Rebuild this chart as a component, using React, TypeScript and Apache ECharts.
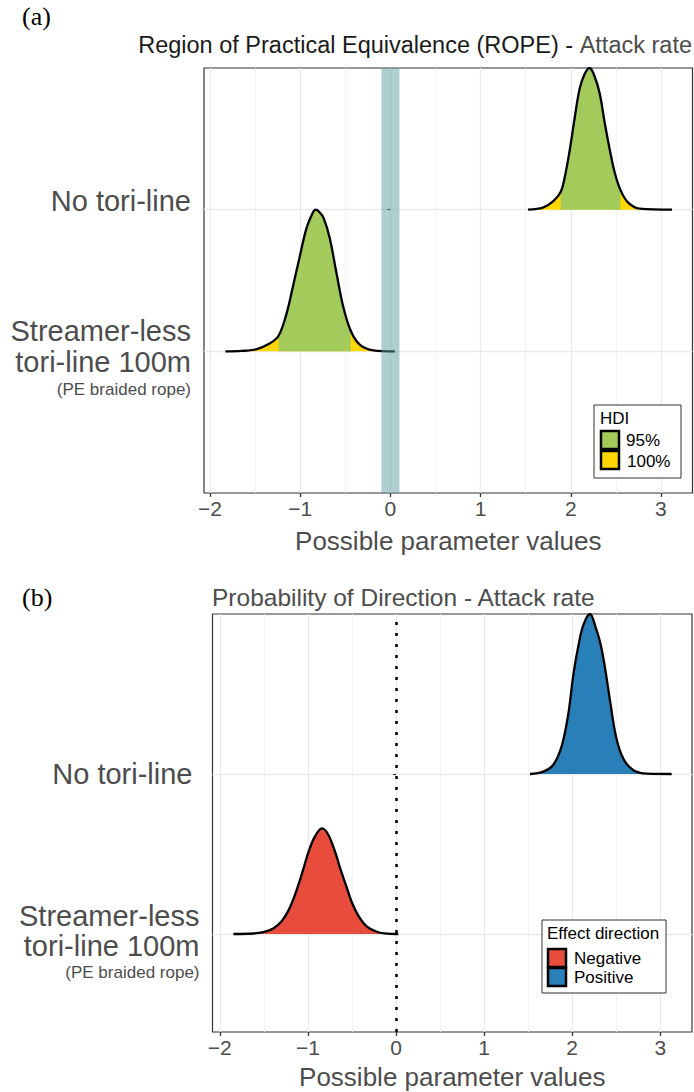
import React, { useEffect, useRef } from 'react';
import * as echarts from 'echarts';

// ---------- data ----------
const xTicks = [-2, -1, 0, 1, 2, 3];
const xMinor = [-1.5, -0.5, 0.5, 1.5, 2.5];
const yLevels = [1, 2];
const yLabelMain = ['Streamer-less\ntori-line 100m', 'No tori-line'];
const yLabelSub = ['(PE braided rope)', ''];

const ropeStreamerX = [-1.83, -1.65, -1.49, -1.34, -1.24, -1.15, -1.08, -1.005, -0.93, -0.855, -0.83, -0.79, -0.74, -0.673, -0.6, -0.525, -0.44, -0.34, -0.19, 0.05];
const ropeStreamerH = [0, 0.003, 0.014, 0.055, 0.11, 0.27, 0.46, 0.67, 0.87, 0.985, 1.0, 0.985, 0.94, 0.8, 0.56, 0.32, 0.145, 0.047, 0.007, 0];
const ropeStreamerHdi = [-1.24, -0.44];

const ropeNoToriX = [1.526, 1.692, 1.803, 1.888, 1.932, 1.988, 2.043, 2.099, 2.154, 2.21, 2.265, 2.321, 2.376, 2.432, 2.487, 2.553, 2.634, 2.764, 3.122];
const ropeNoToriH = [0, 0.014, 0.058, 0.125, 0.225, 0.418, 0.645, 0.855, 0.958, 1.0, 0.94, 0.82, 0.615, 0.425, 0.262, 0.136, 0.052, 0.007, 0];
const ropeNoToriHdi = [1.888, 2.553];

const ropeRange = [-0.1, 0.1];

const pdNegX = [-1.846, -1.62, -1.506, -1.393, -1.298, -1.222, -1.166, -1.109, -1.052, -0.995, -0.92, -0.84, -0.77, -0.692, -0.636, -0.568, -0.503, -0.428, -0.333, -0.219, -0.106, 0.026];
const pdNegH = [0, 0.003, 0.012, 0.035, 0.08, 0.146, 0.216, 0.305, 0.405, 0.51, 0.61, 0.66, 0.622, 0.515, 0.415, 0.305, 0.2, 0.115, 0.048, 0.014, 0.002, 0];

const pdPosX = [1.521, 1.672, 1.786, 1.881, 1.956, 2.013, 2.07, 2.126, 2.202, 2.27, 2.323, 2.372, 2.429, 2.497, 2.58, 2.694, 2.846, 3.129];
const pdPosH = [0, 0.015, 0.058, 0.175, 0.375, 0.62, 0.8, 0.93, 1.0, 0.91, 0.81, 0.665, 0.46, 0.235, 0.096, 0.024, 0.002, 0];

const hdiLevels = ['95%', '100%'];
const directionLevels = ['Negative', 'Positive'];

// ---------- styles ----------
const FONT = 'Liberation Sans, Arial, Helvetica, sans-serif';
const GREEN = '#a3cb5c';
const YELLOW = '#ffd700';
const RED = '#e74c3c';
const BLUE = '#2980b9';
const GRAY_TEXT = '#4d4d4d';
const GRID_COLOR = '#ebebeb';

const pts = (xs: number[], hs: number[], base: number) => xs.map((x, i) => [x, base + hs[i]]);
const sub = (xs: number[], hs: number[], base: number, lo: number, hi: number) =>
  pts(xs, hs, base).filter((p) => p[0] >= lo - 1e-9 && p[0] <= hi + 1e-9);

const fmtX = (v: number) => String(v).replace('-', '\u2212');

function bgGrid(idx: number) {
  return {
    type: 'line',
    xAxisIndex: idx,
    yAxisIndex: idx,
    data: [],
    silent: true,
    z: 0,
    markLine: {
      silent: true,
      z: 0,
      symbol: ['none', 'none'],
      label: { show: false },
      animation: false,
      data: [
        ...xTicks.map((v) => ({ xAxis: v, lineStyle: { color: GRID_COLOR, width: 1.3, type: 'solid' } })),
        ...xMinor.map((v) => ({ xAxis: v, lineStyle: { color: '#f0f0f0', width: 0.8, type: 'solid' } })),
        ...yLevels.map((v) => ({ yAxis: v, lineStyle: { color: GRID_COLOR, width: 1.3, type: 'solid' } })),
      ],
    },
  };
}

function lineBase(idx: number) {
  return {
    type: 'line',
    xAxisIndex: idx,
    yAxisIndex: idx,
    smooth: 0.35,
    showSymbol: false,
    symbol: 'none',
    silent: true,
  };
}

function yAxisCfg(idx: number, min: number, rich: any, names: string[]) {
  return {
    type: 'value',
    gridIndex: idx,
    min,
    max: 3,
    axisLine: { show: false },
    axisTick: { show: true, customValues: yLevels, length: 3, lineStyle: { color: '#333', width: 1.2 } },
    splitLine: { show: false },
    axisLabel: {
      customValues: yLevels,
      margin: 13,
      color: GRAY_TEXT,
      fontFamily: FONT,
      align: 'right',
      formatter: (v: number) => {
        const i = yLevels.indexOf(v);
        if (i < 0) return '';
        return names[i];
      },
      rich,
    },
  };
}

function xAxisCfg(idx: number, min: number, max: number, nameGap: number) {
  return {
    type: 'value',
    gridIndex: idx,
    min,
    max,
    axisLine: { show: false },
    axisTick: { show: true, customValues: xTicks, length: 4, lineStyle: { color: '#333', width: 1.3 } },
    splitLine: { show: false },
    axisLabel: { customValues: xTicks, formatter: fmtX, color: GRAY_TEXT, fontSize: 21, fontFamily: FONT, margin: 5 },
    name: 'Possible parameter values',
    nameLocation: 'middle',
    nameGap,
    nameTextStyle: { fontSize: 26, color: GRAY_TEXT, fontFamily: FONT },
  };
}

export default function App() {
  const ref = useRef<HTMLDivElement>(null);
  useEffect(() => {
    document.body.style.margin = '0';
    if (!ref.current) return;
    const chart = echarts.init(ref.current, null, { renderer: 'svg' });

    const [sMain, nMain] = yLabelMain;
    const streamerLines = sMain.split('\n').map((l) => `{big|${l}}`).join('\n');
    const namesA = [
      `{gapA| }\n${streamerLines}\n{sub|${yLabelSub[0]}}`,
      `{na|${nMain}}\n{gapN| }`,
    ];
    const richA = {
      na: { fontSize: 29, lineHeight: 31, color: GRAY_TEXT, fontFamily: FONT, align: 'right' },
      gapN: { fontSize: 10, lineHeight: 18, align: 'right' },
      gapA: { fontSize: 10, lineHeight: 14, align: 'right' },
      big: { fontSize: 29, lineHeight: 31, color: GRAY_TEXT, fontFamily: FONT, align: 'right' },
      sub: { fontSize: 17, lineHeight: 24, color: GRAY_TEXT, fontFamily: FONT, align: 'right' },
    };
    const namesB = [
      `{gapA| }\n${streamerLines}\n{sub|${yLabelSub[0]}}`,
      `{na|${nMain}}`,
    ];
    const richB = {
      na: { fontSize: 29, lineHeight: 30, padding: [0, 7, 0, 0], color: GRAY_TEXT, fontFamily: FONT, align: 'right' },
      gapA: { fontSize: 10, lineHeight: 16, align: 'right' },
      big: { fontSize: 29, lineHeight: 30, color: GRAY_TEXT, fontFamily: FONT, align: 'right' },
      sub: { fontSize: 17, lineHeight: 22, color: GRAY_TEXT, fontFamily: FONT, align: 'right' },
    };

    const curvesA: any[] = [];
    const ropeCurves = [
      { xs: ropeStreamerX, hs: ropeStreamerH, base: 1, hdi: ropeStreamerHdi },
      { xs: ropeNoToriX, hs: ropeNoToriH, base: 2, hdi: ropeNoToriHdi },
    ];
    ropeCurves.forEach((c) => {
      curvesA.push({
        ...lineBase(0),
        data: pts(c.xs, c.hs, c.base),
        lineStyle: { opacity: 0, width: 0 },
        areaStyle: { color: YELLOW, opacity: 1, origin: c.base },
        z: 2,
      });
      curvesA.push({
        ...lineBase(0),
        data: sub(c.xs, c.hs, c.base, c.hdi[0], c.hdi[1]),
        lineStyle: { opacity: 0, width: 0 },
        areaStyle: { color: GREEN, opacity: 1, origin: c.base },
        z: 3,
      });
      curvesA.push({
        ...lineBase(0),
        data: pts(c.xs, c.hs, c.base),
        lineStyle: { color: '#000', width: 2.3 },
        z: 4,
      });
    });

    const curvesB = [
      { xs: pdNegX, hs: pdNegH, base: 1, color: RED },
      { xs: pdPosX, hs: pdPosH, base: 2, color: BLUE },
    ].map((c) => ({
      ...lineBase(1),
      data: pts(c.xs, c.hs, c.base),
      lineStyle: { color: '#000', width: 2.3 },
      areaStyle: { color: c.color, opacity: 1, origin: c.base },
      z: 3,
    }));

    const option: any = {
      animation: false,
      backgroundColor: '#ffffff',
      grid: [
        { left: 204, top: 68, width: 488.5, height: 425, show: true, borderColor: '#333333', borderWidth: 1.2, backgroundColor: '#fff', containLabel: false },
        { left: 212.5, top: 614, width: 479.5, height: 418, show: true, borderColor: '#333333', borderWidth: 1.2, backgroundColor: '#fff', containLabel: false },
      ],
      xAxis: [xAxisCfg(0, -2.067, 3.35, 35), xAxisCfg(1, -2.083, 3.36, 32)],
      yAxis: [yAxisCfg(0, 0, richA, namesA), yAxisCfg(1, 0.3875, richB, namesB)],
      series: [
        bgGrid(0),
        ...curvesA,
        {
          type: 'line',
          xAxisIndex: 0,
          yAxisIndex: 0,
          data: [],
          silent: true,
          z: 10,
          markArea: {
            silent: true,
            z: 10,
            itemStyle: { color: 'rgba(95,158,160,0.5)' },
            data: [[{ xAxis: ropeRange[0] }, { xAxis: ropeRange[1] }]],
          },
        },
        bgGrid(1),
        ...curvesB,
        {
          type: 'line',
          xAxisIndex: 1,
          yAxisIndex: 1,
          data: [],
          silent: true,
          z: 10,
          markLine: {
            silent: true,
            z: 10,
            symbol: ['none', 'none'],
            label: { show: false },
            data: [{ xAxis: 0 }],
            lineStyle: { color: '#000', width: 2.5, type: [3, 8], opacity: 1 },
          },
        },
      ],
      graphic: [
        { type: 'text', left: 22, top: 3, style: { text: '(a)', fontSize: 26, fontFamily: 'Liberation Serif, Times New Roman, serif', fill: '#000' } },
        { type: 'text', left: 22, top: 584, style: { text: '(b)', fontSize: 26, fontFamily: 'Liberation Serif, Times New Roman, serif', fill: '#000' } },
        {
          type: 'text',
          right: 2,
          top: 33,
          style: {
            text: '{d|Region of Practical Equivalence (ROPE) - }{g|Attack rate}',
            rich: {
              d: { fontSize: 23.5, fontFamily: FONT, fill: '#1a1a1a' },
              g: { fontSize: 23.5, fontFamily: FONT, fill: GRAY_TEXT },
            },
          },
        },
        {
          type: 'text',
          left: 212,
          top: 585,
          style: { text: 'Probability of Direction - Attack rate', fontSize: 24.5, fontFamily: FONT, fill: GRAY_TEXT },
        },
        // HDI legend
        { type: 'rect', shape: { x: 594, y: 405, width: 87, height: 73 }, style: { fill: '#fff', stroke: '#333', lineWidth: 1 }, z: 20 },
        { type: 'text', x: 600, y: 418, style: { text: 'HDI', fontSize: 17, fontFamily: FONT, fill: '#000', verticalAlign: 'middle' }, z: 21 },
        { type: 'rect', shape: { x: 601, y: 431, width: 18, height: 18 }, style: { fill: GREEN, stroke: '#000', lineWidth: 2.5 }, z: 21 },
        { type: 'rect', shape: { x: 601, y: 451, width: 18, height: 18 }, style: { fill: YELLOW, stroke: '#000', lineWidth: 2.5 }, z: 21 },
        { type: 'text', x: 626, y: 440, style: { text: hdiLevels[0], fontSize: 17, fontFamily: FONT, fill: '#000', verticalAlign: 'middle' }, z: 21 },
        { type: 'text', x: 627, y: 461, style: { text: hdiLevels[1], fontSize: 17, fontFamily: FONT, fill: '#000', verticalAlign: 'middle' }, z: 21 },
        // Effect direction legend
        { type: 'rect', shape: { x: 542, y: 920, width: 124, height: 73 }, style: { fill: '#fff', stroke: '#333', lineWidth: 1 }, z: 20 },
        { type: 'text', x: 547, y: 933, style: { text: 'Effect direction', fontSize: 17, fontFamily: FONT, fill: '#000', verticalAlign: 'middle' }, z: 21 },
        { type: 'rect', shape: { x: 548, y: 949, width: 18, height: 18 }, style: { fill: RED, stroke: '#000', lineWidth: 2.5 }, z: 21 },
        { type: 'rect', shape: { x: 548, y: 968, width: 18, height: 18 }, style: { fill: BLUE, stroke: '#000', lineWidth: 2.5 }, z: 21 },
        { type: 'text', x: 574, y: 958, style: { text: directionLevels[0], fontSize: 17, fontFamily: FONT, fill: '#000', verticalAlign: 'middle' }, z: 21 },
        { type: 'text', x: 574, y: 977, style: { text: directionLevels[1], fontSize: 17, fontFamily: FONT, fill: '#000', verticalAlign: 'middle' }, z: 21 },
      ],
    };
    chart.setOption(option);
    return () => chart.dispose();
  }, []);
  return <div ref={ref} style={{ width: 694, height: 1092 }} />;
}
